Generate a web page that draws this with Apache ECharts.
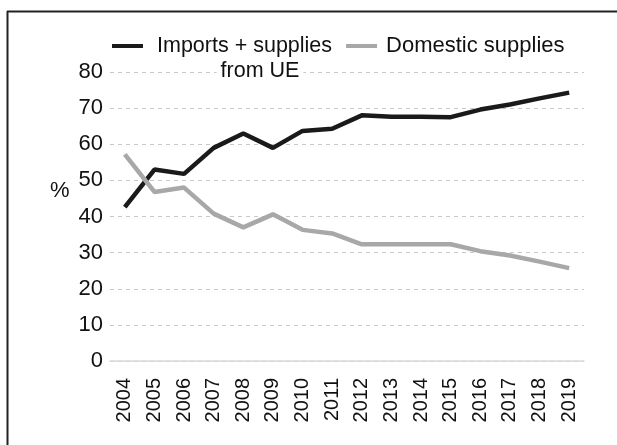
<!DOCTYPE html>
<html><head><meta charset="utf-8">
<script src="https://cdn.jsdelivr.net/npm/echarts@6/dist/echarts.min.js"></script>
<style>html,body{margin:0;padding:0;background:#fff}#c{width:617px;height:445px}</style>
</head><body><div id="c"></div>
<script>
const years = ['2004','2005','2006','2007','2008','2009','2010','2011','2012','2013','2014','2015','2016','2017','2018','2019'];
const importsEU = [42.6, 53, 51.8, 59, 63, 59, 63.7, 64.3, 68, 67.6, 67.6, 67.5, 69.6, 71, 72.7, 74.3];
const domestic = [57.2, 46.8, 48, 40.8, 37, 40.6, 36.3, 35.3, 32.3, 32.3, 32.3, 32.3, 30.4, 29.2, 27.5, 25.7];
const yTicks = [0, 80, 10];
const font = 'Liberation Sans, Arial, sans-serif';
const chart = echarts.init(document.getElementById('c'), null, {renderer:'canvas'});
chart.setOption({
  animation:false,
  backgroundColor:'#fff',
  textStyle:{fontFamily:font},
  graphic:[
    {type:'line', shape:{x1:7, y1:11.5, x2:617, y2:11.5}, style:{stroke:'#222', lineWidth:2}},
    {type:'line', shape:{x1:7.5, y1:11, x2:7.5, y2:445}, style:{stroke:'#222', lineWidth:2}},
    {type:'text', left:50, top:180, style:{text:'%', font:'22px '+font, fill:'#111'}},
    {type:'text', x:260, y:71, z:100, style:{text:'from UE', font:'21.5px '+font, fill:'#111', align:'center', verticalAlign:'middle', backgroundColor:'#fff', padding:[0,4,0,4]}}
  ],
  legend:{
    top:30, left:107, itemGap:14, itemWidth:31, itemHeight:4,
    icon:'rect',
    data:['Imports + supplies','Domestic supplies'],
    formatter:function(n){ return n==='Imports + supplies' ? '{a|'+n+'}' : '{c|'+n+'}'; },
    textStyle:{fontSize:21.5, color:'#111', fontFamily:font,
      rich:{a:{fontSize:21.5, fontFamily:font, color:'#111', padding:[0,0,0,9]},
            c:{fontSize:22, fontFamily:font, color:'#111', padding:[0,0,0,4]}}}
  },
  grid:{left:110, right:33, top:72, bottom:84, containLabel:false},
  xAxis:{type:'category', data:years, boundaryGap:true,
    axisLine:{show:true, lineStyle:{color:'#d9d9d9', width:1.5}},
    axisTick:{show:false},
    axisLabel:{rotate:90, fontSize:20, color:'#111', margin:17, fontFamily:font, interval:0}
  },
  yAxis:{type:'value', min:yTicks[0], max:yTicks[1], interval:yTicks[2],
    axisLine:{show:false}, axisTick:{show:false},
    axisLabel:{fontSize:22, color:'#111', margin:7, fontFamily:font},
    splitLine:{lineStyle:{color:'#c8c8c8', type:[4,4], width:1}}
  },
  series:[
    {name:'Imports + supplies', type:'line', data:importsEU, symbol:'none',
     lineStyle:{color:'#1a1a1a', width:4.5}, itemStyle:{color:'#1a1a1a'}},
    {name:'Domestic supplies', type:'line', data:domestic, symbol:'none',
     lineStyle:{color:'#a8a8a8', width:4.5}, itemStyle:{color:'#a8a8a8'}}
  ]
});
</script></body></html>
